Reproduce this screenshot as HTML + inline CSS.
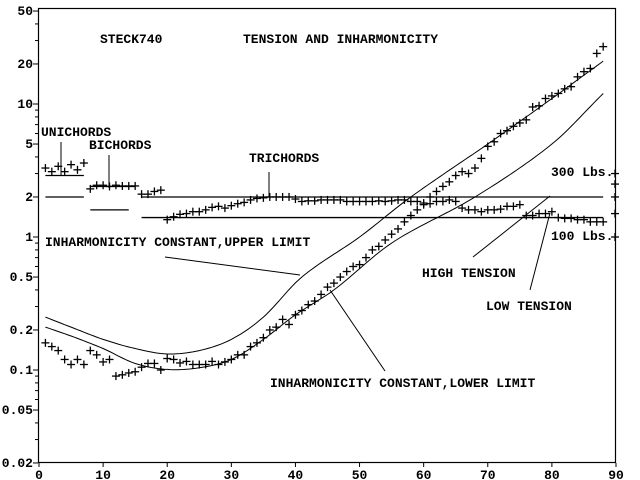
<!DOCTYPE html>
<html><head><meta charset="utf-8"><style>
html,body{margin:0;padding:0;background:#fff;}
svg{display:block;}
text{font-family:"Liberation Mono",monospace;font-weight:bold;font-size:13px;fill:#000;}
</style></head><body>
<svg id="s" width="640" height="480" viewBox="0 0 640 480" xmlns="http://www.w3.org/2000/svg"></svg>
<script>
const S=document.getElementById('s');
const X=v=>39+v*(577/90);
const Y=v=>370-(Math.log10(v)+1)*133;
let h='';
const L=(a,b,c,d,w)=>h+=`<line x1="${a}" y1="${b}" x2="${c}" y2="${d}" stroke="#000" stroke-width="${w||1}"/>`;
const T=(x,y,t,a)=>h+=`<text x="${x}" y="${y}" ${a?'text-anchor="'+a+'"':''}>${t}</text>`;
h+=`<rect x="38.5" y="8.5" width="577" height="454" fill="none" stroke="#000" stroke-width="1.2"/>`;
[[50,'50'],[20,'20'],[10,'10'],[5,'5'],[2,'2'],[1,'1'],[0.5,'0.5'],[0.2,'0.2'],[0.1,'0.1'],[0.05,'0.05'],[0.02,'0.02']].forEach(([v,t])=>{const y=Y(v);L(33,y,38,y);T(33,y+4,t,'end');});
[0.03,0.04,0.06,0.07,0.08,0.09,0.3,0.4,0.6,0.7,0.8,0.9,3,4,6,7,8,9,30,40].forEach(v=>{const y=Y(v);L(35,y,38,y);});
for(let i=0;i<=9;i++){const x=X(i*10);L(x,463,x,467);T(x,479,String(i*10),'middle');}
function curve(pts){
  const p=pts.map(q=>[q[0],Math.log10(q[1])]);const n=p.length;let d='';
  for(let x=1;x<=88;x+=0.5){
    let i=0;while(i<n-2&&x>p[i+1][0])i++;
    const p0=p[Math.max(0,i-1)],p1=p[i],p2=p[i+1],p3=p[Math.min(n-1,i+2)];
    const t=(x-p1[0])/(p2[0]-p1[0]);
    const m1=(p2[1]-p0[1])/(p2[0]-p0[0])*(p2[0]-p1[0]);
    const m2=(p3[1]-p1[1])/(p3[0]-p1[0])*(p2[0]-p1[0]);
    const t2=t*t,t3=t2*t;
    const v=(2*t3-3*t2+1)*p1[1]+(t3-2*t2+t)*m1+(-2*t3+3*t2)*p2[1]+(t3-t2)*m2;
    d+=(d?'L':'M')+X(x).toFixed(1)+','+Y(Math.pow(10,v)).toFixed(1);}
  h+=`<path d="${d}" fill="none" stroke="#000" stroke-width="1"/>`;}
curve([[1,.25],[5,.21],[10,.17],[15,.145],[20,.132],[25,.14],[30,.17],[35,.25],[41,.5],[50,1.0],[58,2],[70,5],[80,11],[88,21]]);
curve([[1,.21],[5,.18],[10,.145],[15,.112],[20,.101],[25,.104],[30,.12],[35,.17],[40,.26],[46,.4],[55,.9],[68,2],[80,5],[88,12]]);
const H=(a,b,v)=>L(X(a),Y(v),X(b),Y(v),1.3);
H(1,7,2.9);H(1,7,2);H(8,15,2.4);H(8,14,1.6);H(16,88,2);H(16,88,1.4);
const P=(x,v)=>{const px=X(x),py=Y(v);L(px-4,py,px+4,py,1.3);L(px,py-4,px,py+4,1.3);};
[3.3,3.1,3.4,3.1,3.5,3.2,3.6].forEach((v,i)=>P(i+1,v));
[2.3,2.45,2.45,2.4,2.45,2.42,2.42,2.42].forEach((v,i)=>P(i+8,v));
[2.1,2.1,2.2,2.25].forEach((v,i)=>P(i+16,v));
[1.35,1.42,1.48,1.5,1.55,1.55,1.6,1.67,1.7,1.65,1.72,1.78,1.82,1.9,1.95,1.97,2,2,2,2,1.93,1.85,1.87,1.87,1.9,1.9,1.9,1.9,1.85,1.85,1.85,1.85,1.85,1.87,1.85,1.87,1.9,1.9,1.85,1.85,1.8,1.78,1.85,1.85,1.9,1.85,1.65,1.6,1.6,1.55,1.6,1.6,1.62,1.7,1.7,1.75,1.45,1.45,1.5,1.5,1.55,1.4,1.38,1.38,1.35,1.35,1.3,1.3,1.3].forEach((v,i)=>{if(i+20<=88)P(i+20,v);});
[0.16,0.15,0.14,0.12,0.11,0.12,0.11,0.14,0.13,0.115,0.12,0.09,0.092,0.095,0.097,0.105,0.112,0.112,0.1,0.122,0.12,0.113,0.116,0.11,0.11,0.11,0.116,0.11,0.115,0.12,0.13,0.13,0.15,0.16,0.175,0.2,0.21,0.24,0.22,0.26,0.28,0.31,0.33,0.37,0.42,0.45,0.5,0.55,0.6,0.62,0.7,0.8,0.85,0.95,1.05,1.15,1.3,1.45,1.6,1.75,2.0,2.2,2.4,2.6,2.9,3.1,3.0,3.3,3.9,4.8,5.2,6.0,6.3,6.8,7.2,7.6,9.5,9.7,11,11.5,12,13,13.5,16,17.5,18.5,24,27].forEach((v,i)=>P(i+1,v));
[3,2.5,2,1.5,1].forEach(v=>{const y=Y(v);L(611,y,619,y,1.3);L(615,y-4,615,y+4,1.3);});
T(100,43,'STECK740');T(243,43,'TENSION AND INHARMONICITY');
T(41,136,'UNICHORDS');L(61,142,61,175);
T(89,149,'BICHORDS');L(109,155,109,188);
T(249,162,'TRICHORDS');L(269,172,269,197);
T(551,176,'300 Lbs.');T(551,240,'100 Lbs.');
T(45,246,'INHARMONICITY CONSTANT,UPPER LIMIT');L(165,257,300,275);
T(270,387,'INHARMONICITY CONSTANT,LOWER LIMIT');L(385,371,330,290);
T(422,277,'HIGH TENSION');L(473,257,550,196);
T(486,310,'LOW TENSION');L(530,290,550,213);
S.innerHTML=h;
</script>
</body></html>
